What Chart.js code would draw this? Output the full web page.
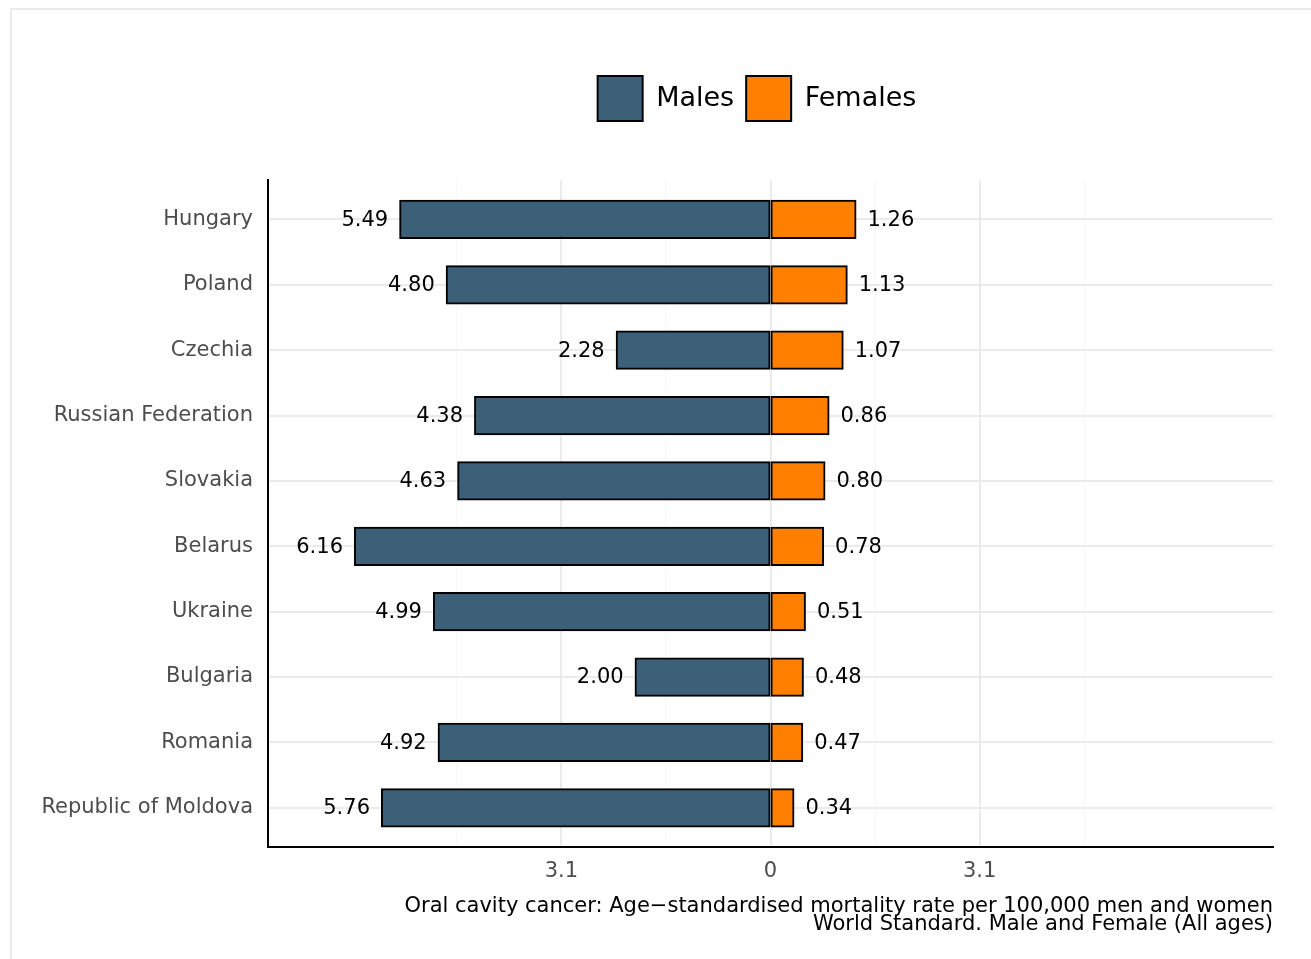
<!DOCTYPE html>
<html>
<head>
<meta charset="utf-8">
<script src="https://cdn.jsdelivr.net/npm/chart.js@4.4.1/dist/chart.umd.min.js"></script>
<style>
  html, body { margin: 0; padding: 0; background: #fff; overflow: hidden; }
  #frame { position: absolute; left: 10px; top: 8px; width: 1400px; height: 1000px;
           border-left: 2px solid #ebebeb; border-top: 2px solid #ebebeb; }
  #wrap { position: absolute; left: 0; top: 0; width: 1311px; height: 959px; }
</style>
</head>
<body>
<div id="frame"></div>
<div id="wrap"><canvas id="chart"></canvas></div>
<script>
const countries = ["Hungary", "Poland", "Czechia", "Russian Federation", "Slovakia",
                   "Belarus", "Ukraine", "Bulgaria", "Romania", "Republic of Moldova"];
const males   = [5.49, 4.80, 2.28, 4.38, 4.63, 6.16, 4.99, 2.00, 4.92, 5.76];
const females = [1.26, 1.13, 1.07, 0.86, 0.80, 0.78, 0.51, 0.48, 0.47, 0.34];
const xMajor = [-3.1, 0, 3.1];
const xMinor = [-4.65, -1.55, 1.55, 4.65];
const caption = ["Oral cavity cancer: Age\u2212standardised mortality rate per 100,000 men and women",
                 "World Standard. Male and Female (All ages)"];

const FONT = "'DejaVu Sans', sans-serif";

// bar end labels (absolute values, 2 decimals)
const valueLabels = {
  id: "valueLabels",
  afterDatasetsDraw(chart) {
    const ctx = chart.ctx;
    ctx.save();
    ctx.font = "21px " + FONT;
    ctx.fillStyle = "#000";
    ctx.textBaseline = "middle";
    chart.data.datasets.forEach((ds, di) => {
      const meta = chart.getDatasetMeta(di);
      const vals = di === 0 ? males : females;
      meta.data.forEach((bar, i) => {
        const txt = vals[i].toFixed(2);
        ctx.textAlign = di === 0 ? "right" : "left";
        ctx.fillText(txt, di === 0 ? bar.x - 12 : bar.x + 12, bar.y + 1);
      });
    });
    ctx.restore();
  }
};

// centre the legend over the plot + label column like the original
const legendSpan = {
  id: "legendSpan",
  afterLayout(chart) {
    if (chart.legend) {
      chart.legend.left = 241;
      chart.legend.right = 1273;
    }
  }
};

const isMajor = v => xMajor.some(m => Math.abs(m - v) < 1e-6);

new Chart(document.getElementById("chart"), {
  type: "bar",
  data: {
    datasets: [
      {
        label: "Males",
        data: males.map((v, i) => ({ x: -v, y: i + 1 })),
        backgroundColor: "#3d6079",
        borderColor: "#000",
        borderWidth: 2,
        borderSkipped: false,
        inflateAmount: 1
      },
      {
        label: "Females",
        data: females.map((v, i) => ({ x: v, y: i + 1 })),
        backgroundColor: "#ff7f00",
        borderColor: "#000",
        borderWidth: 2,
        borderSkipped: false,
        inflateAmount: 1
      }
    ]
  },
  options: {
    indexAxis: "y",
    responsive: true,
    maintainAspectRatio: false,
    animation: false,
    barPercentage: 0.57,
    categoryPercentage: 1,
    layout: { padding: { left: 0, right: 38, top: 64, bottom: 0 } },
    plugins: {
      tooltip: { enabled: false },
      legend: {
        display: true,
        position: "top",
        labels: {
          boxWidth: 45,
          boxHeight: 45,
          padding: 12,
          color: "#000",
          font: { family: FONT, size: 27 }
        }
      },
      subtitle: {
        display: true,
        text: "",
        position: "top",
        weight: 500,
        font: { size: 1 },
        padding: { top: 0, bottom: 48 }
      }
    },
    scales: {
      x: {
        type: "linear",
        stacked: true,
        min: -7.45,
        max: 7.45,
        afterBuildTicks: s => { s.ticks = [...xMinor, ...xMajor].sort((a, b) => a - b).map(v => ({ value: v })); },
        afterFit: s => { s.height = 112; },
        ticks: {
          padding: 12,
          color: "#4d4d4d",
          font: { family: FONT, size: 21 },
          maxRotation: 0,
          autoSkip: false,
          callback: v => isMajor(v) ? (Math.abs(v) < 1e-6 ? "0" : String(Math.abs(v))) : ""
        },
        grid: {
          drawTicks: false,
          color: c => isMajor(c.tick.value) ? "#ebebeb" : "#f7f7f7",
          lineWidth: c => isMajor(c.tick.value) ? 2 : 1
        },
        border: { display: true, color: "#000", width: 2 },
        title: {
          display: true,
          text: caption,
          align: "end",
          color: "#000",
          font: { family: FONT, size: 21, lineHeight: 0.86 },
          padding: { top: 0, bottom: 25 }
        }
      },
      y: {
        type: "linear",
        stacked: true,
        reverse: true,
        offset: false,
        min: 0.4,
        max: 10.6,
        afterBuildTicks: s => { s.ticks = countries.map((c, i) => ({ value: i + 1 })); },
        afterFit: s => { s.width = 268; },
        ticks: {
          padding: 15,
          color: "#4d4d4d",
          font: { family: FONT, size: 21 },
          autoSkip: false,
          callback: v => countries[Math.round(v) - 1] || ""
        },
        grid: { drawTicks: false, offset: false, color: "#ebebeb", lineWidth: 2 },
        border: { display: true, color: "#000", width: 2 }
      }
    }
  },
  plugins: [valueLabels, legendSpan]
});
</script>
</body>
</html>
